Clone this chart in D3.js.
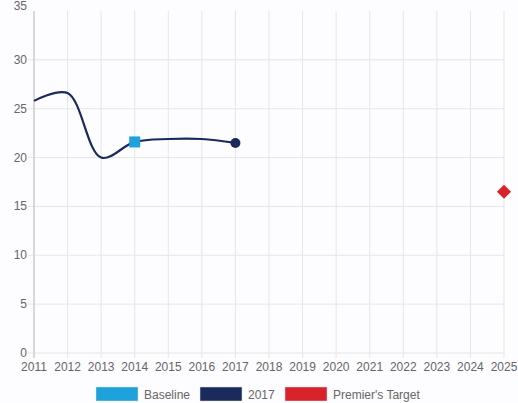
<!DOCTYPE html>
<html>
<head>
<meta charset="utf-8">
<script src="https://cdn.jsdelivr.net/npm/d3@7"></script>
<style>
  body { margin: 0; background: #fdfcfe; }
  svg { display: block; font-family: "Liberation Sans", Arial, sans-serif; }
</style>
</head>
<body>
<svg width="518" height="403"></svg>
<script>
// valores
var anos = [2011, 2012, 2013, 2014, 2015, 2016, 2017];
var valores = [25.8, 26.6, 20.0, 21.6, 21.9, 21.9, 21.5];
var baseline = {ano: 2014, valor: 21.6};
var atual = {ano: 2017, valor: 21.5};
var meta = {ano: 2025, valor: 16.5};
var ticksX = d3.range(2011, 2026);
var ticksY = [0, 5, 10, 15, 20, 25, 30, 35];
var legenda = [
  {nome: 'Baseline', cor: '#1ea2db'},
  {nome: '2017', cor: '#1b2a5c'},
  {nome: "Premier's Target", cor: '#d9232b'}
];

var svg = d3.select('svg');
var x = d3.scaleLinear().domain([2011, 2025]).range([34, 504]);
var y = d3.scaleLinear().domain([0, 35]).range([353, 11]);

// grade
svg.append('g').selectAll('line').data(ticksY.slice(0, -1)).join('line')
  .attr('x1', 28).attr('x2', 504)
  .attr('y1', d => y(d)).attr('y2', d => y(d))
  .attr('stroke', '#e6e6e6').attr('stroke-width', 1);
svg.append('g').selectAll('line').data(ticksX).join('line')
  .attr('x1', d => x(d)).attr('x2', d => x(d))
  .attr('y1', y(35)).attr('y2', 358)
  .attr('stroke', '#e6e6e6').attr('stroke-width', 1);
svg.append('line').attr('x1', x(2011)).attr('x2', x(2011))
  .attr('y1', y(35)).attr('y2', 358).attr('stroke', '#cfcfcf').attr('stroke-width', 1.5);

// rotulos (o 35 fica encostado no topo)
svg.append('g').selectAll('text').data(ticksY).join('text')
  .attr('x', 27).attr('y', d => d === 35 ? 10 : y(d) + 4)
  .attr('text-anchor', 'end').attr('font-size', 12).attr('fill', '#666')
  .text(d => d);
svg.append('g').selectAll('text').data(ticksX).join('text')
  .attr('x', d => x(d)).attr('y', 371)
  .attr('text-anchor', 'middle').attr('font-size', 12).attr('fill', '#666')
  .text(d => d);

// linha
var linha = d3.line().x((d, i) => x(anos[i])).y(d => y(d)).curve(d3.curveCatmullRom.alpha(0.5));
svg.append('path').datum(valores).attr('d', linha)
  .attr('fill', 'none').attr('stroke', '#1b2a5c').attr('stroke-width', 2.2);

// marcadores
svg.append('rect').attr('x', x(baseline.ano) - 5.5).attr('y', y(baseline.valor) - 5.5)
  .attr('width', 11).attr('height', 11).attr('fill', '#1ea2db');
svg.append('circle').attr('cx', x(atual.ano)).attr('cy', y(atual.valor)).attr('r', 5)
  .attr('fill', '#1b2a5c');
svg.append('path').attr('d', d3.symbol(d3.symbolSquare, 100)())
  .attr('transform', 'translate(' + x(meta.ano) + ',' + y(meta.valor) + ') rotate(45)')
  .attr('fill', '#d9232b');

// legenda
var posLeg = [96, 200, 285];
var leg = svg.append('g').selectAll('g').data(legenda).join('g')
  .attr('transform', (d, i) => 'translate(' + posLeg[i] + ',387)');
leg.append('rect').attr('width', 42).attr('height', 14)
  .attr('fill', d => d.cor).attr('stroke', '#ddd').attr('stroke-width', 0.5);
leg.append('text').attr('x', 48).attr('y', 11.5).attr('font-size', 12).attr('fill', '#666')
  .text(d => d.nome);
</script>
</body>
</html>
